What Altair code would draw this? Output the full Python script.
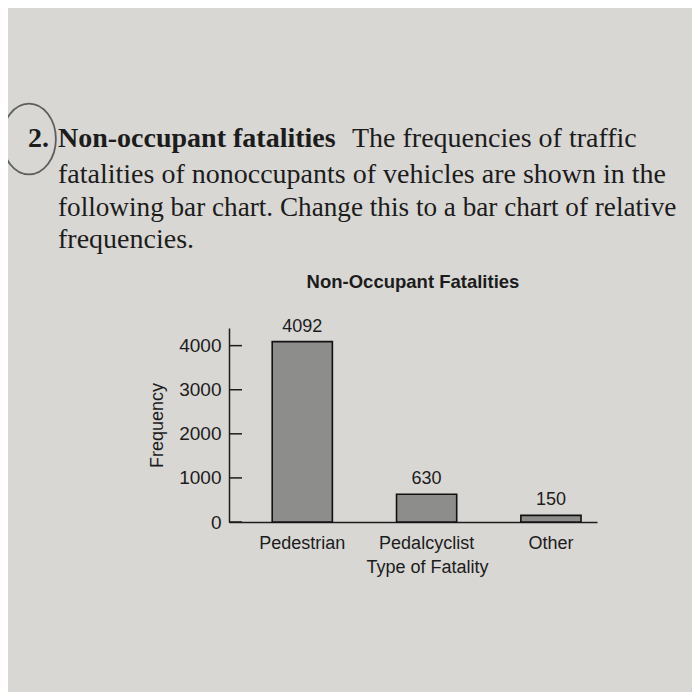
import altair as alt
import pandas as pd

categories = ["Pedestrian", "Pedalcyclist", "Other"]
frequencies = [4092, 630, 150]
y_ticks = [0, 1000, 2000, 3000, 4000]

chart_title = "Non-Occupant Fatalities"
para_line1_num = "2."
para_line1_bold = "Non-occupant fatalities"
para_line1_rest = "The frequencies of traffic"
para_lines = [
    "fatalities of nonoccupants of vehicles are shown in the",
    "following bar chart. Change this to a bar chart of relative",
    "frequencies.",
]

df = pd.DataFrame({"type": categories, "freq": frequencies})
ticks_df = pd.DataFrame({"tick": y_ticks})

SANS = "Liberation Sans"
SERIF = "Liberation Serif"
INK = "#1c1c1c"
W, H = 368, 194

x_scale = alt.Scale(domain=categories, paddingInner=0.516, paddingOuter=0.238, align=0.73)
y_scale = alt.Scale(domain=[0, 4400], nice=False)

x_enc = alt.X(
    "type:N", scale=x_scale, sort=categories,
    axis=alt.Axis(title="Type of Fatality", labelAngle=0, ticks=False,
                  domainColor=INK, domainWidth=1.5, labelPadding=12,
                  titlePadding=6, titleX=198, labelFontSize=18),
)
y_enc = alt.Y(
    "freq:Q", scale=y_scale,
    axis=alt.Axis(title="Frequency", values=y_ticks, format="d", ticks=False, grid=False,
                  domainColor=INK, domainWidth=1.5, labelPadding=8,
                  titlePadding=12, labelFontSize=19),
)

bars = alt.Chart(df).mark_bar(fill="#8d8d8b", stroke="#111111", strokeWidth=1.6).encode(
    x=x_enc, y=y_enc
)

values = alt.Chart(df).mark_text(
    baseline="bottom", dy=-6, font=SANS, fontSize=18, color=INK
).encode(
    x=alt.X("type:N", scale=x_scale, sort=categories),
    y=alt.Y("freq:Q", scale=y_scale),
    text="freq:Q",
)

inner_ticks = alt.Chart(ticks_df).mark_rule(stroke=INK, strokeWidth=1.5).encode(
    y=alt.Y("tick:Q", scale=y_scale),
    x=alt.value(0),
    x2=alt.value(13),
)


def txt(s, x, y, weight="normal", size=28, font=SERIF, align="left"):
    return alt.Chart(alt.Data(values=[{"t": s}])).mark_text(
        align=align, baseline="alphabetic", font=font, fontSize=size,
        fontWeight=weight, color=INK,
    ).encode(x=alt.value(x), y=alt.value(y), text="t:N")


ox, oy = 229, 328
para = [
    txt(para_line1_num, 28 - ox, 147 - oy, "bold"),
    txt(para_line1_bold, 58 - ox, 147 - oy, "bold"),
    txt(para_line1_rest, 352 - ox, 147 - oy),
    txt(para_lines[0], 58 - ox, 183 - oy),
    txt(para_lines[1], 58 - ox, 216 - oy, size=27.2),
    txt(para_lines[2], 58 - ox, 248 - oy),
]

title_mark = txt(chart_title, W / 2, 288 - oy, "bold", 18.5, SANS, "center")

circle = alt.Chart(alt.Data(values=[{"c": 1}])).mark_point(
    shape="M -0.76 0 A 0.76 1 0 1 0 0.76 0 A 0.76 1 0 1 0 -0.76 0 Z",
    filled=False, size=5000, stroke="#2a2a2a", strokeWidth=1.8,
).encode(x=alt.value(29 - ox), y=alt.value(139 - oy))

chart = alt.layer(bars, values, inner_ticks, title_mark, *para, circle).properties(
    width=W,
    height=H,
    autosize="none",
    padding={"left": ox - 8, "top": oy - 8, "right": 684 - (ox - 8) - W, "bottom": 684 - (oy - 8) - H},
    background="#d8d7d4",
).configure_view(stroke=None).configure_axis(
    labelFont=SANS, titleFont=SANS, labelFontSize=18, titleFontSize=18,
    titleFontWeight="normal", labelColor=INK, titleColor=INK,
)

chart.save("out.html", embed_options={"renderer": "svg", "actions": False})
